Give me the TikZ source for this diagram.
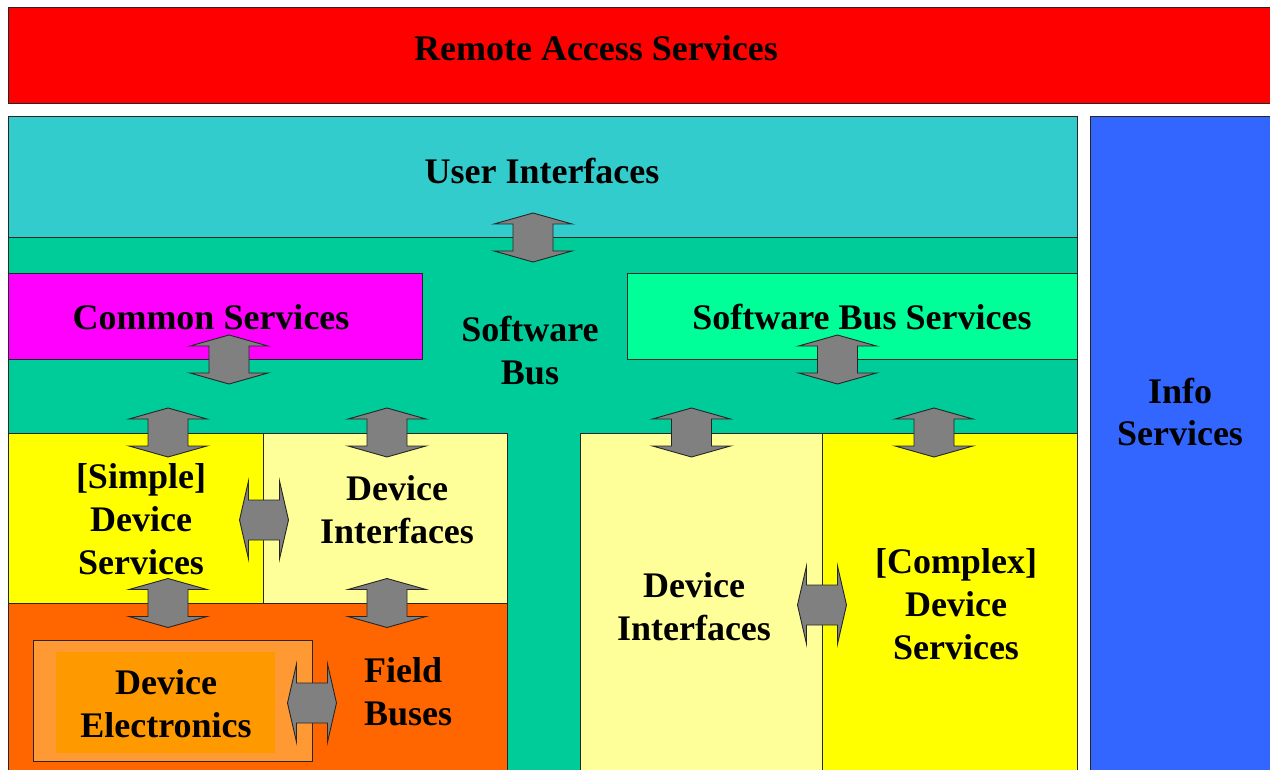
\documentclass[tikz,border=0pt]{standalone}
\usepackage{fontspec}
\setmainfont{Liberation Serif}
\definecolor{rasred}{HTML}{FF0000}
\definecolor{uicyan}{HTML}{33CCCC}
\definecolor{busgreen}{HTML}{00CC99}
\definecolor{comsvc}{HTML}{FF00FF}
\definecolor{sbsgreen}{HTML}{00FF99}
\definecolor{infoblue}{HTML}{3366FF}
\definecolor{devyellow}{HTML}{FFFF00}
\definecolor{ifyellow}{HTML}{FFFF99}
\definecolor{fborange}{HTML}{FF6600}
\definecolor{elecouter}{HTML}{FF9933}
\definecolor{elecinner}{HTML}{FF9900}
\definecolor{arrowgray}{HTML}{808080}
\tikzset{
  layer/.style={draw=black!85, line width=1pt},
  label/.style={font=\fontsize{36}{43}\selectfont\bfseries, text=black, align=center, inner sep=0pt},
  blockarrow/.style={draw=black!85, line width=0.9pt, fill=arrowgray, line join=miter},
  varrow/.pic={
    \path[blockarrow] (0,-24.5) -- (39,-13.5) -- (20,-13.5) -- (20,13.5) -- (39,13.5)
      -- (0,24.5) -- (-39,13.5) -- (-20,13.5) -- (-20,-13.5) -- (-39,-13.5) -- cycle;
  },
  harrow/.pic={
    \path[blockarrow] (-24.5,0) -- (-15.5,-39) -- (-15.5,-20) -- (15.5,-20) -- (15.5,-39)
      -- (24.5,0) -- (15.5,39) -- (15.5,20) -- (-15.5,20) -- (-15.5,39) -- cycle;
  }
}
\begin{document}
\begin{tikzpicture}[x=1pt,y=-1pt]
  \useasboundingbox (0,0) rectangle (1270,770);
  \clip (0,0) rectangle (1270,770);
  \fill[white] (0,0) rectangle (1270,770);

  % top band and side column
  \draw[layer, fill=rasred] (8,8) rectangle (1272,104);
  \draw[layer, fill=infoblue] (1090,117) rectangle (1272,772);

  % user interfaces and the software bus below it
  \draw[layer, fill=uicyan] (8,117) rectangle (1077,238);
  \draw[layer, fill=busgreen] (8,238) rectangle (1077,772);

  % services attached to the bus
  \draw[layer, fill=comsvc] (8,274) rectangle (422,359);
  \draw[layer, fill=sbsgreen] (627,274) rectangle (1077,359);

  % left device stack
  \draw[layer, fill=devyellow] (8,433) rectangle (263,603);
  \draw[layer, fill=ifyellow] (263,433) rectangle (507,603);
  \draw[layer, fill=fborange] (8,603) rectangle (507,772);
  \draw[layer, fill=elecouter] (33,640) rectangle (312,761);
  \fill[elecinner] (56,652) rectangle (275,753);

  % right device stack
  \draw[layer, fill=ifyellow] (580,433) rectangle (822,772);
  \draw[layer, fill=devyellow] (822,433) rectangle (1077,772);

  % labels
  \node[label] (ras) at (596,48) {Remote Access Services};
  \node[label] (ui) at (542,171) {User Interfaces};
  \node[label] (cs) at (211,317) {Common Services};
  \node[label] (bus) at (530,351) {Software\\Bus};
  \node[label] (sbs) at (862,317) {Software Bus Services};
  \node[label] (info) at (1180,412) {Info\\Services};
  \node[label] (sds) at (141,519) {[Simple]\\Device\\Services};
  \node[label] (dil) at (397,510) {Device\\Interfaces};
  \node[label] (dir) at (694,607) {Device\\Interfaces};
  \node[label] (cds) at (956,604) {[Complex]\\Device\\Services};
  \node[label, align=left, anchor=west] (fb) at (364,692) {Field\\Buses};
  \node[label] (de) at (166,704) {Device\\Electronics};

  % block arrows between the layers
  \pic (aui) at (533,237.5) {varrow};
  \pic (acs) at (229,359.5) {varrow};
  \pic (asbs) at (837.5,359.5) {varrow};
  \pic (asds) at (168,432.5) {varrow};
  \pic (adil) at (387,432.5) {varrow};
  \pic (adir) at (691.5,432.5) {varrow};
  \pic (acds) at (934,432.5) {varrow};
  \pic (asfb) at (168,603) {varrow};
  \pic (adfb) at (387,603) {varrow};
  \pic (asdi) at (264,520) {harrow};
  \pic (adic) at (822,605) {harrow};
  \pic (adefb) at (312,703) {harrow};
\end{tikzpicture}
\end{document}
